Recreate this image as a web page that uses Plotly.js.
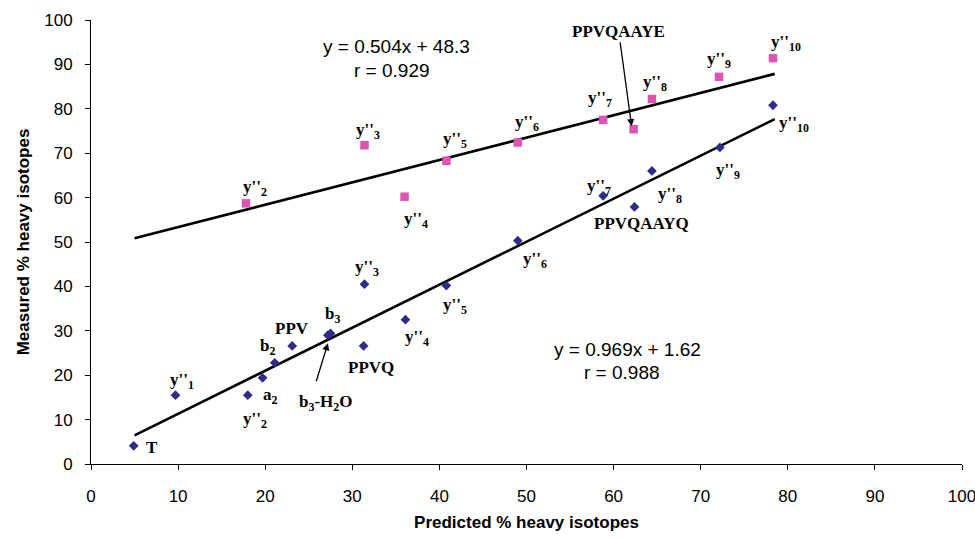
<!DOCTYPE html>
<html>
<head>
<meta charset="utf-8">
<script src="https://cdn.plot.ly/plotly-3.0.1.min.js"></script>
<style>html,body{margin:0;padding:0;background:#fff;}#chart{width:975px;height:538px;}</style>
</head>
<body>
<div id="chart"></div>
<script>
// ---- data: fragment ions measured vs predicted heavy-isotope incorporation ----
const lowerLabels = ["T", "y''<sub>1</sub>", "y''<sub>2</sub>", "a<sub>2</sub>", "b<sub>2</sub>", "PPV", "b<sub>3</sub>", "b<sub>3</sub>-H<sub>2</sub>O", "PPVQ", "y''<sub>3</sub>", "y''<sub>4</sub>", "y''<sub>5</sub>", "y''<sub>6</sub>", "y''<sub>7</sub>", "PPVQAAYQ", "y''<sub>8</sub>", "y''<sub>9</sub>", "y''<sub>10</sub>"];
const lowerX = [4.9, 9.7, 18.0, 19.7, 21.1, 23.1, 27.5, 27.2, 31.3, 31.4, 36.1, 40.8, 49.0, 58.8, 62.4, 64.4, 72.2, 78.3];
const lowerY = [4.1, 15.5, 15.5, 19.4, 22.8, 26.6, 29.4, 29.0, 26.6, 40.5, 32.5, 40.2, 50.3, 60.4, 57.9, 66.0, 71.3, 80.8];

const upperLabels = ["y''<sub>2</sub>", "y''<sub>3</sub>", "y''<sub>4</sub>", "y''<sub>5</sub>", "y''<sub>6</sub>", "y''<sub>7</sub>", "PPVQAAYE", "y''<sub>8</sub>", "y''<sub>9</sub>", "y''<sub>10</sub>"];
const upperX = [17.8, 31.4, 36.0, 40.8, 49.0, 58.8, 62.3, 64.4, 72.1, 78.3];
const upperY = [58.7, 71.8, 60.2, 68.3, 72.4, 77.5, 75.4, 82.2, 87.2, 91.4];

// regression fits as printed on the chart: [lower, upper]
const fitSlope = [0.969, 0.504];
const fitIntercept = [1.62, 48.3];
const fitR = [0.988, 0.929];
const fitXRange = [5, 78.5];

const xTicks = [0, 10, 20, 30, 40, 50, 60, 70, 80, 90, 100];
const yTicks = [0, 10, 20, 30, 40, 50, 60, 70, 80, 90, 100];

// ---- styling / label placement (pixel offsets) ----
const lowerOffsets = [[18,-2],[7,14],[7,-25],[8,-18],[-7,16],[0,17],[2,18],null,[7,-22],[3,16],[12,-18],[9,-20],[17,-19],[-4,9],[7,-17],[18,-24],[8,-24],[21,-19]];
const upperOffsets = [[9,15],[4,14],[11,-23],[9,21],[9,20],[-3,21],null,[3,16],[0,17],[13,15]];

const labelFont = {family: "Liberation Serif, Times New Roman, serif", size: 17, color: "#000", weight: "bold"};
const eqFont = {family: "Liberation Sans, Arial, sans-serif", size: 19, color: "#000"};

function fitLine(i) {
  return {
    x: fitXRange,
    y: fitXRange.map(v => fitSlope[i] * v + fitIntercept[i]),
    mode: "lines", type: "scatter", hoverinfo: "skip",
    line: {color: "#000", width: 2.6}
  };
}

const traces = [
  fitLine(0), fitLine(1),
  {x: lowerX, y: lowerY, mode: "markers", type: "scatter",
   marker: {symbol: "diamond", size: 7.5, color: "#302c86"}},
  {x: upperX, y: upperY, mode: "markers", type: "scatter",
   marker: {symbol: "square", size: 8.5, color: "#dc55b2"}}
];

const annotations = [];
function addLabels(labels, xs, ys, offs) {
  labels.forEach((t, i) => {
    if (!offs[i]) return;
    annotations.push({x: xs[i], y: ys[i], xref: "x", yref: "y", text: t, showarrow: false,
      xshift: offs[i][0], yshift: offs[i][1], font: labelFont, xanchor: "center", yanchor: "middle"});
  });
}
addLabels(lowerLabels, lowerX, lowerY, lowerOffsets);
addLabels(upperLabels, upperX, upperY, upperOffsets);

// b3-H2O: text below, arrow pointing up to the point
const ib = 7;
annotations.push({x: lowerX[ib], y: lowerY[ib], xref: "x", yref: "y", text: lowerLabels[ib], showarrow: false,
  xshift: -2, yshift: -68, font: labelFont});
annotations.push({x: lowerX[ib], y: lowerY[ib], xref: "x", yref: "y", text: " ", showarrow: true,
  ax: -15, ay: 49, yshift: -8, arrowhead: 2, arrowsize: 1.1, arrowwidth: 1.3, arrowcolor: "#000", standoff: 0, font: labelFont});
// PPVQAAYE with arrow
const ie = 6;
annotations.push({x: upperX[ie], y: upperY[ie], xref: "x", yref: "y", text: upperLabels[ie], showarrow: true,
  ax: -13, ay: -95, xshift: -2, yshift: 3, arrowhead: 2, arrowsize: 1.1, arrowwidth: 1.3, arrowcolor: "#000", standoff: 0, font: labelFont});

// equations
function eqText(i) { return "y = " + fitSlope[i] + "x + " + fitIntercept[i]; }
annotations.push({x: 35.1, y: 94.1, xref: "x", yref: "y", text: eqText(1), showarrow: false, font: eqFont});
annotations.push({x: 34.5, y: 88.7, xref: "x", yref: "y", text: "r = " + fitR[1], showarrow: false, font: eqFont});
annotations.push({x: 61.6, y: 25.7, xref: "x", yref: "y", text: eqText(0), showarrow: false, font: eqFont});
annotations.push({x: 61.0, y: 20.5, xref: "x", yref: "y", text: "r = " + fitR[0], showarrow: false, font: eqFont});

const axisCommon = {
  showgrid: false, zeroline: false, showline: true, linecolor: "#000", linewidth: 1,
  ticks: "outside", ticklen: 5, tickcolor: "#000", tickwidth: 1,
  tickfont: {family: "Liberation Sans, Arial, sans-serif", size: 17, color: "#000"},
  ticklabeloverflow: "allow",
  fixedrange: true
};

const layout = {
  width: 975, height: 538,
  margin: {l: 91, r: 13, t: 20, b: 74},
  paper_bgcolor: "#fff", plot_bgcolor: "#fff",
  showlegend: false,
  xaxis: Object.assign({}, axisCommon, {
    range: [0, 100], tickvals: xTicks, ticktext: xTicks.map(String), ticklabelstandoff: 12,
    title: {text: "Predicted % heavy isotopes", standoff: 10,
      font: {family: "Liberation Sans, Arial, sans-serif", size: 17, color: "#000", weight: "bold"}}
  }),
  yaxis: Object.assign({}, axisCommon, {
    range: [0, 100], tickvals: yTicks, ticktext: yTicks.map(String), ticklabelstandoff: 9,
    title: {text: "Measured % heavy isotopes", standoff: 10,
      font: {family: "Liberation Sans, Arial, sans-serif", size: 17, color: "#000", weight: "bold"}}
  }),
  annotations: annotations
};

Plotly.newPlot("chart", traces, layout, {staticPlot: true, displayModeBar: false});
</script>
</body>
</html>
